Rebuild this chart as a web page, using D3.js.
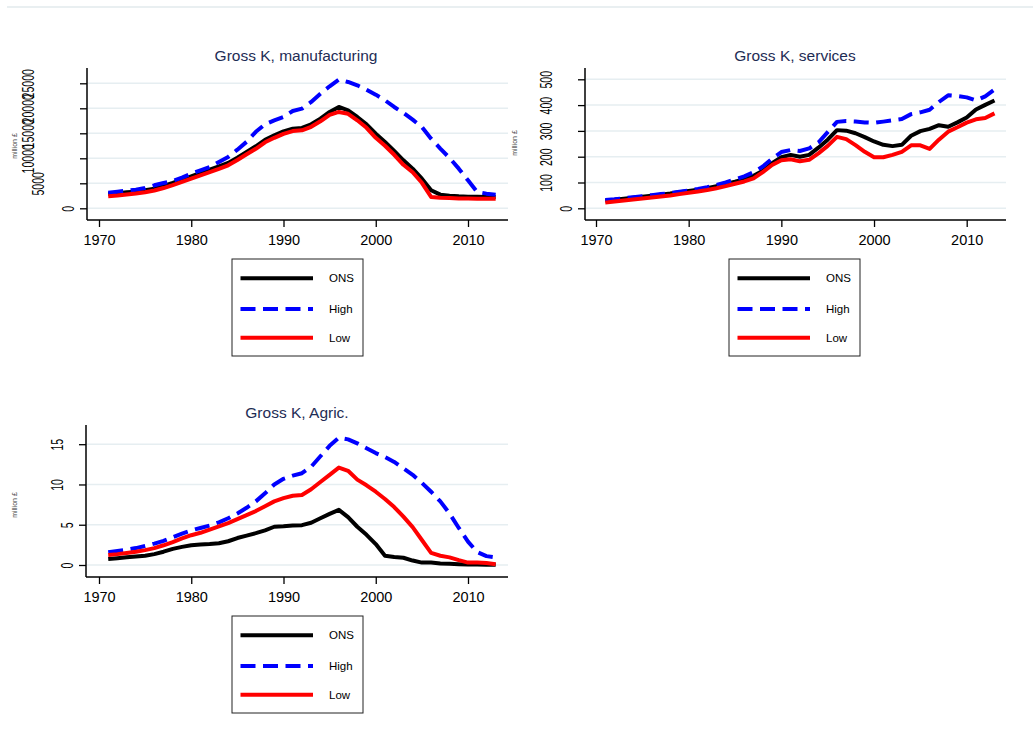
<!DOCTYPE html>
<html>
<head>
<meta charset="utf-8">
<script src="https://cdn.jsdelivr.net/npm/d3@7"></script>
<style>
  body { margin: 0; background: #fff; }
  svg { display: block; font-family: "Liberation Sans", Arial, sans-serif; }
</style>
</head>
<body>
<svg id="chart" width="1033" height="749"></svg>
<script>
// data (1971-2013)
const years = d3.range(1971, 2014);
const seriesNames = ["ONS", "High", "Low"];

const manufONS = [2870, 3000, 3200, 3330, 3600, 3930, 4470, 5070, 5730, 6400, 7070, 7730, 8400, 9070, 10130, 11270, 12400, 13700, 14600, 15400, 15930, 16070, 16800, 17930, 19270, 20270, 19600, 18270, 16800, 14930, 13270, 11470, 9600, 7930, 5930, 3600, 2730, 2530, 2400, 2330, 2300, 2280, 2270];
const manufHigh = [3130, 3330, 3530, 3730, 4070, 4600, 5070, 5470, 6130, 6930, 7600, 8270, 9270, 10270, 11730, 13300, 15300, 16800, 17600, 18270, 19470, 19930, 21270, 22930, 24400, 25730, 25270, 24600, 23730, 22730, 21600, 20270, 19070, 17730, 16270, 13930, 11930, 10070, 7930, 5600, 3270, 2930, 2730];
const manufLow = [2400, 2550, 2750, 2950, 3200, 3550, 4050, 4650, 5300, 5950, 6600, 7250, 7900, 8600, 9650, 10800, 11900, 13200, 14100, 14900, 15450, 15600, 16300, 17400, 18700, 19270, 18900, 17600, 16100, 14100, 12500, 10700, 8700, 7200, 5100, 2270, 2100, 2050, 1950, 1950, 1930, 1930, 1930];

const servONS = [30, 33, 37, 41, 45, 49, 53, 57, 62, 67, 72, 78, 86, 94, 103, 113, 126, 145, 175, 198, 207, 200, 207, 235, 266, 303, 301, 291, 276, 259, 246, 241, 246, 281, 299, 308, 322, 316, 333, 352, 383, 401, 418];
const servHigh = [32, 35, 39, 43, 47, 51, 55, 59, 64, 69, 75, 82, 90, 100, 112, 124, 140, 162, 192, 218, 226, 222, 232, 255, 295, 335, 338, 336, 333, 331, 336, 341, 346, 365, 372, 382, 412, 438, 435, 430, 418, 434, 460];
const servLow = [22, 26, 30, 34, 38, 42, 46, 50, 55, 60, 65, 71, 78, 86, 95, 104, 116, 140, 168, 186, 190, 182, 188, 213, 242, 277, 268, 245, 219, 198, 198, 207, 219, 244, 244, 230, 266, 297, 314, 332, 345, 350, 368];

const agrONS = [0.75, 0.85, 0.95, 1.05, 1.15, 1.35, 1.65, 2.0, 2.25, 2.45, 2.55, 2.6, 2.7, 2.95, 3.35, 3.65, 3.95, 4.3, 4.75, 4.8, 4.9, 4.95, 5.25, 5.8, 6.35, 6.85, 5.95, 4.75, 3.75, 2.6, 1.15, 1.0, 0.9, 0.55, 0.3, 0.3, 0.2, 0.15, 0.1, 0.05, 0.05, 0.03, 0.02];
const agrHigh = [1.6, 1.75, 1.9, 2.1, 2.35, 2.65, 3.0, 3.45, 3.9, 4.3, 4.6, 4.9, 5.3, 5.8, 6.4, 7.1, 7.9, 8.9, 10.0, 10.7, 11.1, 11.4, 12.2, 13.5, 14.8, 15.8, 15.6, 15.1, 14.5, 13.9, 13.4, 12.8, 12.0, 11.2, 10.2, 9.1, 7.9, 6.4, 4.6, 2.9, 1.6, 1.1, 0.95];
const agrLow = [1.25, 1.35, 1.5, 1.65, 1.85, 2.1, 2.45, 2.85, 3.3, 3.7, 4.0, 4.4, 4.8, 5.2, 5.7, 6.2, 6.7, 7.3, 7.9, 8.3, 8.6, 8.7, 9.4, 10.3, 11.2, 12.1, 11.7, 10.6, 9.9, 9.1, 8.2, 7.2, 6.0, 4.7, 3.1, 1.5, 1.15, 0.95, 0.6, 0.3, 0.3, 0.25, 0.1];

const xTicks = [1970, 1980, 1990, 2000, 2010];
const manufTicks = [0, 5000, 10000, 15000, 20000, 25000];
const servTicks = [0, 100, 200, 300, 400, 500];
const agrTicks = [0, 5, 10, 15];

const colors = { ONS: "#000000", High: "#0000ff", Low: "#ff0000" };
const dashes = { ONS: null, High: "15,7.5", Low: null };

const svg = d3.select("#chart");

// outer frame line at top
svg.append("line")
  .attr("x1", 7).attr("x2", 1033).attr("y1", 7).attr("y2", 7)
  .attr("stroke", "#e2eaed").attr("stroke-width", 1.5);

function drawPanel(p) {
  const g = svg.append("g");
  const x = d3.scaleLinear().domain([1970, 2010]).range(p.xRange);
  const y = d3.scaleLinear().domain([p.yTicks[0], p.yTicks[p.yTicks.length - 1]]).range(p.yRange);

  // gridlines
  g.selectAll(".grid")
    .data(p.yTicks)
    .enter().append("line")
    .attr("x1", p.axisX + 1).attr("x2", p.right)
    .attr("y1", d => y(d)).attr("y2", d => y(d))
    .attr("stroke", "#e6eef1").attr("stroke-width", 1.5);

  // y axis (labels rotated, narrow along the text as in the original)
  const ya = g.append("g")
    .attr("transform", `translate(${p.axisX},0)`)
    .call(d3.axisLeft(y).tickValues(p.yTicks).tickSize(7).tickSizeOuter(0).tickFormat(d => String(d)));
  ya.attr("font-family", null).attr("font-size", null);
  ya.select(".domain").remove();
  ya.selectAll(".tick line").attr("stroke", "#000").attr("stroke-width", 1.3);
  ya.selectAll(".tick text")
    .attr("x", null).attr("dy", null)
    .attr("fill", "#000")
    .style("font-size", "16px")
    .attr("text-anchor", "middle")
    .attr("transform", d => `translate(${-(8.6 + 10.1 * String(d).length) + 5.7},0) rotate(-90) scale(0.66,1)`);
  g.append("line")
    .attr("x1", p.axisX).attr("x2", p.axisX)
    .attr("y1", p.axisTop).attr("y2", p.axisY)
    .attr("stroke", "#000").attr("stroke-width", 1.5);

  // x axis
  const xa = g.append("g")
    .attr("transform", `translate(0,${p.axisY})`)
    .call(d3.axisBottom(x).tickValues(xTicks).tickSize(7).tickSizeOuter(0).tickPadding(8).tickFormat(d3.format("d")));
  xa.attr("font-family", null).attr("font-size", null);
  xa.select(".domain").remove();
  xa.selectAll(".tick line").attr("stroke", "#000").attr("stroke-width", 1.3);
  xa.selectAll(".tick text").attr("fill", "#000").style("font-size", "14.5px");
  g.append("line")
    .attr("x1", p.axisX).attr("x2", p.right)
    .attr("y1", p.axisY).attr("y2", p.axisY)
    .attr("stroke", "#000").attr("stroke-width", 1.5);

  // series lines
  const line = d3.line().x((d, i) => x(years[i])).y(d => y(d));
  seriesNames.forEach((name, k) => {
    g.append("path")
      .datum(p.series[k])
      .attr("d", line)
      .attr("fill", "none")
      .attr("stroke", colors[name])
      .attr("stroke-width", 4)
      .attr("stroke-linejoin", "round")
      .attr("stroke-dasharray", dashes[name]);
  });

  // title
  g.append("text")
    .attr("x", p.titleX).attr("y", p.titleY)
    .attr("text-anchor", "middle")
    .attr("fill", "#1e2c55")
    .style("font-size", "15.5px")
    .text(p.title);

  // y label
  g.append("text")
    .attr("transform", `translate(${p.ylabX},${p.ylabY}) rotate(-90)`)
    .attr("text-anchor", "middle")
    .attr("fill", "#444")
    .style("font-size", "7px")
    .text("million £");

  // legend
  const lg = g.append("g").attr("transform", `translate(${p.legX},${p.legY})`);
  lg.append("rect")
    .attr("width", 131).attr("height", 97)
    .attr("fill", "#fff").attr("stroke", "#222").attr("stroke-width", 1);
  const rows = [19.3, 50, 78.7];
  seriesNames.forEach((name, k) => {
    lg.append("line")
      .attr("x1", 8.5).attr("x2", 81)
      .attr("y1", rows[k]).attr("y2", rows[k])
      .attr("stroke", colors[name]).attr("stroke-width", 4)
      .attr("stroke-dasharray", dashes[name]);
    lg.append("text")
      .attr("x", 97).attr("y", rows[k] + 4)
      .attr("fill", "#000")
      .style("font-size", "11.5px")
      .text(name);
  });
}

drawPanel({
  title: "Gross K, manufacturing", titleX: 296, titleY: 61,
  axisX: 87, axisY: 220, axisTop: 68, right: 508,
  xRange: [99, 468], yRange: [208.3, 83.3], yTicks: manufTicks,
  ylabX: 17, ylabY: 146,
  legX: 232, legY: 259,
  series: [manufONS, manufHigh, manufLow]
});

drawPanel({
  title: "Gross K, services", titleX: 795, titleY: 61,
  axisX: 585, axisY: 220, axisTop: 68, right: 1006,
  xRange: [596, 966.7], yRange: [208.3, 79.3], yTicks: servTicks,
  ylabX: 517, ylabY: 143,
  legX: 729, legY: 259,
  series: [servONS, servHigh, servLow]
});

drawPanel({
  title: "Gross K, Agric.", titleX: 297, titleY: 418,
  axisX: 86, axisY: 577, axisTop: 425, right: 508,
  xRange: [99, 468], yRange: [565, 444.2], yTicks: agrTicks,
  ylabX: 17, ylabY: 505,
  legX: 232, legY: 616,
  series: [agrONS, agrHigh, agrLow]
});
</script>
</body>
</html>
